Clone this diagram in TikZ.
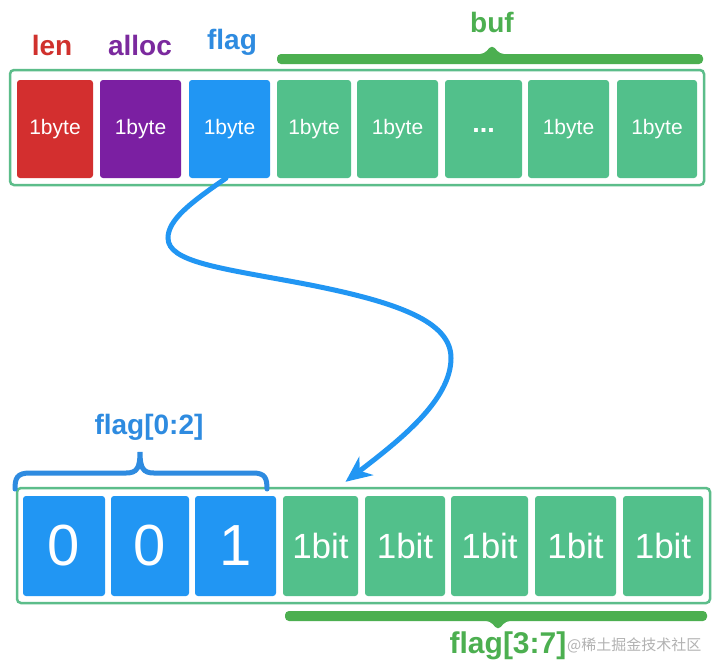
\documentclass[tikz,border=0pt]{standalone}
\usepackage{fontspec}
\setmainfont{Liberation Sans}
\newfontfamily\cjkfont{Noto Sans CJK SC}
\usetikzlibrary{arrows.meta}
\definecolor{cred}{HTML}{D32F2F}
\definecolor{cpurple}{HTML}{7B1FA2}
\definecolor{cblue}{HTML}{2196F3}
\definecolor{cgreen}{HTML}{52C08B}
\definecolor{bgreen}{HTML}{4CAF50}
\definecolor{lred}{HTML}{D0312D}
\definecolor{lpurple}{HTML}{7B2A9E}
\definecolor{lblue}{HTML}{2E8BE0}
\definecolor{frame}{HTML}{5CBD8A}
\tikzset{
  cell/.style={fill=cgreen, rounded corners=3pt, inner sep=0pt, text=white, anchor=center},
  topcell/.style={cell, minimum height=98pt, font=\fontsize{21}{21}\selectfont},
  bitcell/.style={cell, minimum height=100pt, font=\fontsize{35}{35}\selectfont},
  digcell/.style={cell, fill=cblue, minimum height=100pt, font=\fontsize{58}{58}\selectfont},
  lab/.style={font=\bfseries\fontsize{28}{28}\selectfont, inner sep=0pt, anchor=center},
  outer/.style={draw=frame, line width=2.5pt, rounded corners=4pt, fill=white},
}
\begin{document}
\begin{tikzpicture}[x=1pt,y=-1pt]
\useasboundingbox (0,0) rectangle (714,665);
\fill[white] (0,0) rectangle (714,665);

% top container
\draw[outer] (10,70) rectangle (704,185);
\node[topcell, fill=cred, minimum width=76pt] (t1) at (55,129) {1byte};
\node[topcell, fill=cpurple, minimum width=81pt] (t2) at (140.5,129) {1byte};
\node[topcell, fill=cblue, minimum width=81pt] (t3) at (229.5,129) {1byte};
\node[topcell, minimum width=74pt] (t4) at (314,129) {1byte};
\node[topcell, minimum width=81pt] (t5) at (397.5,129) {1byte};
\node[topcell, minimum width=77pt, font=\bfseries\fontsize{27}{27}\selectfont] (t6) at (483.5,129) {\raisebox{-3pt}[0pt][0pt]{...}};
\node[topcell, minimum width=81pt] (t7) at (568.5,129) {1byte};
\node[topcell, minimum width=80pt] (t8) at (657,129) {1byte};

% top labels
\node[lab, text=lred] (llen) at (52,45) {len};
\node[lab, text=lpurple] (lalloc) at (140,45) {alloc};
\node[lab, text=lblue] (lflag) at (232,42) {flag};
\node[lab, text=bgreen] (lbuf) at (492,22) {buf};
\fill[bgreen, rounded corners=4pt] (277,64) -- (277,54) -- (484,54) -- (492,45) -- (500,54) -- (703,54) -- (703,64) -- cycle;

% bottom container
\draw[outer] (17,488) rectangle (710,603);
\node[digcell, minimum width=82pt] (b1) at (64,546) {0};
\node[digcell, minimum width=78pt] (b2) at (150,546) {0};
\node[digcell, minimum width=81pt] (b3) at (235.5,546) {1};
\node[bitcell, minimum width=75pt] (b4) at (320.5,546) {1bit};
\node[bitcell, minimum width=80pt] (b5) at (405,546) {1bit};
\node[bitcell, minimum width=77pt] (b6) at (489.5,546) {1bit};
\node[bitcell, minimum width=81pt] (b7) at (575.5,546) {1bit};
\node[bitcell, minimum width=80pt] (b8) at (663,546) {1bit};

% flag[0:2] brace
\node[lab, text=lblue] (l02) at (149,427) {flag[0:2]};
\draw[lblue, line width=5pt, line cap=round] (15,489) .. controls (15,478) and (17,473) .. (30,473) -- (126,473) .. controls (137,473) and (140,468) .. (140,452) .. controls (140,468) and (143,473) .. (154,473) -- (253,473) .. controls (265,473) and (267,478) .. (267,489);

% flag[3:7] brace
\fill[bgreen, rounded corners=4pt] (285,611) -- (707,611) -- (707,621) -- (506,621) -- (498,630) -- (490,621) -- (285,621) -- cycle;
\node[lab, text=bgreen, font=\bfseries\fontsize{30}{30}\selectfont] (l37) at (508,646) {flag[3:7]};
\node[inner sep=0pt, text=black!30, font=\cjkfont\fontsize{15}{15}\selectfont, anchor=west] (wm) at (567,645) {@稀土掘金技术社区};

% arrow
\draw[cblue, line width=5pt, line cap=round, -{Stealth[length=26pt,width=23pt,inset=8pt]}]
  ([xshift=-3.5pt,yshift=-0pt]t3.south) .. controls (190,203) and (168,220) .. (168,238)
  .. controls (168,262) and (220,268) .. (300,283)
  .. controls (400,302) and (451,322) .. (451,358)
  .. controls (451,400) and (400,440) .. ([xshift=25pt,yshift=14pt]b4.north);
\end{tikzpicture}
\end{document}
